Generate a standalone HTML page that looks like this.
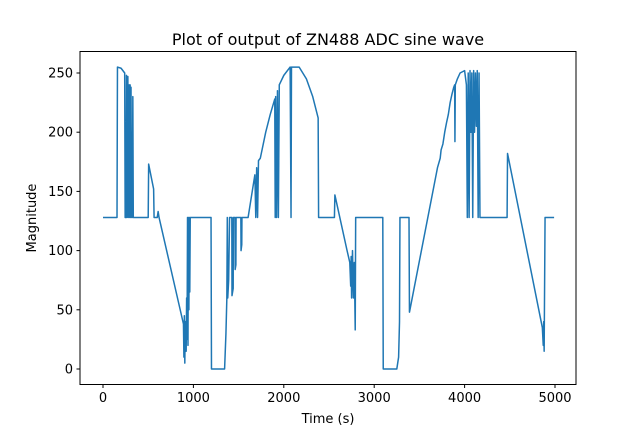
<!DOCTYPE html>
<html><head><meta charset="utf-8"><style>
body{margin:0;background:#fff}
svg text{font-family:"DejaVu Sans","Liberation Sans",sans-serif;fill:#000}
</style></head><body>
<svg id="c" width="640" height="432">
<rect width="640" height="432" fill="#fff"/>
<text x="328" y="45" text-anchor="middle" font-size="16">Plot of output of ZN488 ADC sine wave</text>
<g id="ticks"></g>
<polyline id="line" fill="none" stroke="#1f77b4" stroke-width="1.5" stroke-linejoin="round"/>
<rect x="80" y="51.5" width="496" height="333" fill="none" stroke="#000" stroke-width="1"/>
<text x="328" y="423" text-anchor="middle" font-size="13">Time (s)</text>
<text x="36" y="218" text-anchor="middle" font-size="13" transform="rotate(-90 36 218)">Magnitude</text>
</svg>
<script>
const times=[0,155,160,200,240,245,255,260,265,275,280,290,295,300,305,310,315,320,325,330,335,500,505,560,565,600,610,620,890,895,900,905,910,920,925,930,935,940,945,950,955,960,965,1195,1200,1345,1360,1370,1375,1380,1390,1400,1425,1427,1440,1442,1460,1462,1470,1472,1525,1527,1535,1537,1605,1680,1690,1700,1710,1720,1740,1800,1850,1900,1905,1910,1920,1930,1940,1950,2000,2070,2080,2085,2170,2250,2320,2380,2385,2560,2565,2700,2730,2740,2745,2750,2755,2760,2770,2780,2790,2795,3095,3100,3250,3270,3280,3285,3385,3390,3700,3730,3740,3760,3770,3780,3800,3820,3840,3860,3880,3890,3893,3897,3920,3950,4000,4020,4030,4040,4050,4060,4070,4080,4090,4100,4110,4120,4130,4140,4150,4160,4170,4470,4475,4860,4870,4875,4880,4890,4990];
const values=[128,128,255,254,250,128,128,248,128,247,128,240,128,240,128,238,128,200,128,230,128,128,173,152,128,128,133,128,38,10,45,5,40,15,60,25,128,20,128,50,128,65,128,128,0,0,30,60,128,60,75,128,128,62,68,128,128,84,88,128,128,100,105,128,128,164,128,170,128,176,178,200,215,228,128,230,128,235,128,240,248,255,128,255,255,245,230,212,128,128,147,100,90,70,95,60,80,100,60,90,33,128,128,0,0,10,40,128,128,48,170,178,185,190,195,200,208,215,225,232,238,240,192,240,245,250,252,240,128,250,128,252,200,250,128,252,200,250,205,252,128,250,128,128,182,35,20,40,15,128,128];
const xTicks=[0,1000,2000,3000,4000,5000];
const yTicks=[0,50,100,150,200,250];
const NS='http://www.w3.org/2000/svg';
function xs(t){return 103+t*(555-103)/5000;}
function ys(v){return 369-v*(369-73)/250;}
const line=document.getElementById('line');
line.setAttribute('points',times.map((t,i)=>xs(t).toFixed(2)+','+ys(values[i]).toFixed(2)).join(' '));
const g=document.getElementById('ticks');
xTicks.forEach(t=>{
 const l=document.createElementNS(NS,'line');
 l.setAttribute('x1',xs(t));l.setAttribute('x2',xs(t));l.setAttribute('y1',384.5);l.setAttribute('y2',388);l.setAttribute('stroke','#000');
 
 
 g.appendChild(l);
 const tx=document.createElementNS(NS,'text');
 tx.setAttribute('x',xs(t));tx.setAttribute('y',402);tx.setAttribute('text-anchor','middle');tx.setAttribute('font-size','13');
 tx.textContent=t;
 
 
 g.appendChild(tx);
});
yTicks.forEach(v=>{
 const l=document.createElementNS(NS,'line');
 l.setAttribute('x1',76.5);l.setAttribute('x2',80);l.setAttribute('y1',ys(v));l.setAttribute('y2',ys(v));l.setAttribute('stroke','#000');
 
 
 g.appendChild(l);
 const tx=document.createElementNS(NS,'text');
 tx.setAttribute('x',73);tx.setAttribute('y',ys(v)+4.5);tx.setAttribute('text-anchor','end');tx.setAttribute('font-size','13');
 tx.textContent=v;
 
 
 g.appendChild(tx);
});
</script>
</body></html>
